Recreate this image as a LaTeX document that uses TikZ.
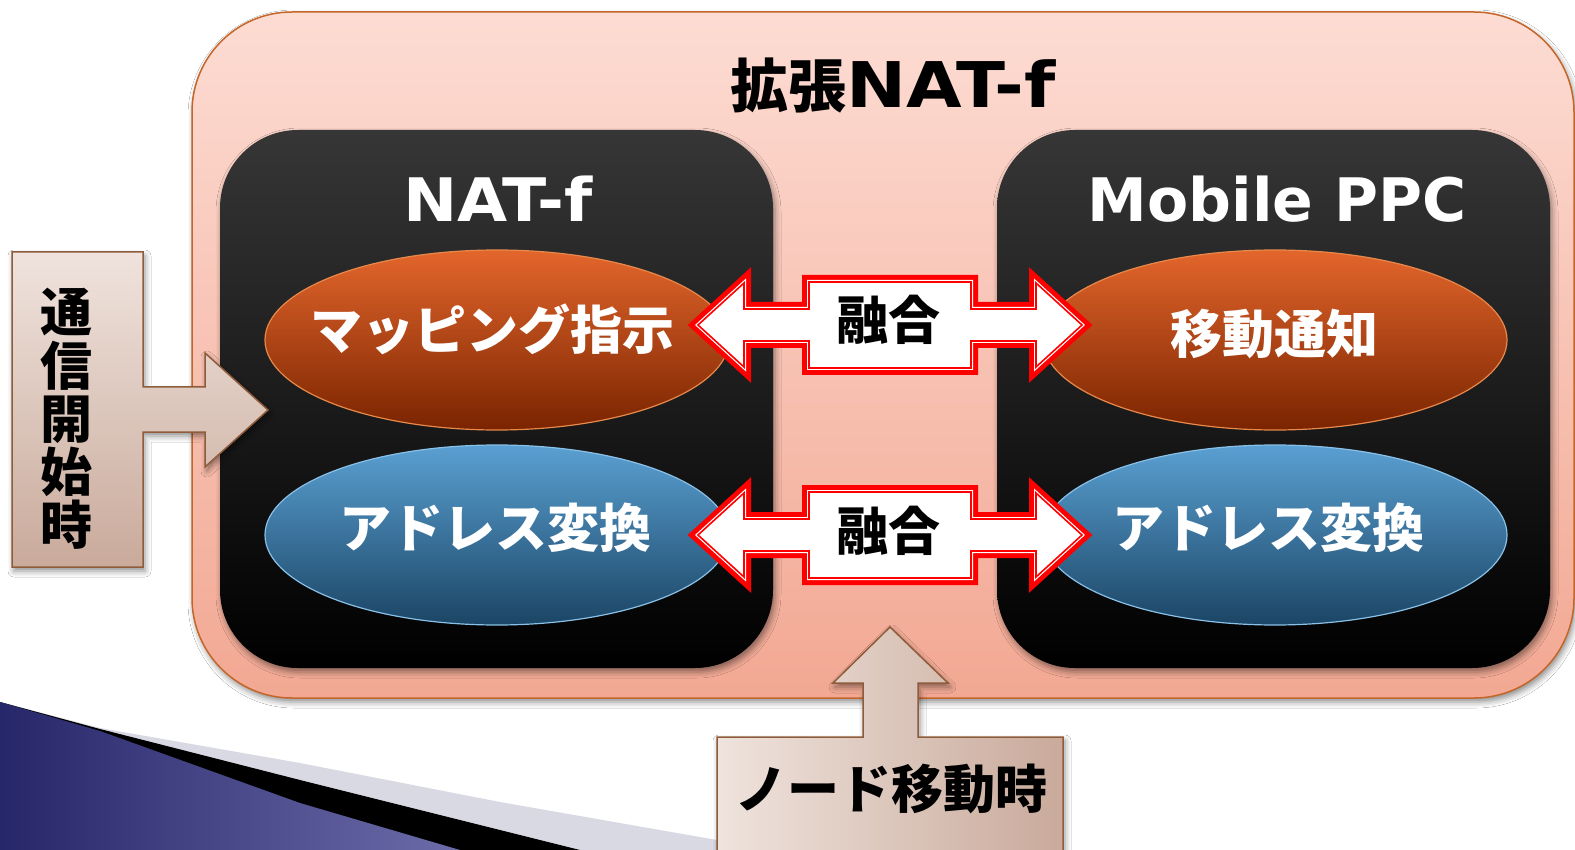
\documentclass[tikz,border=0pt]{standalone}
\usepackage{fontspec}
\newfontfamily\jp{Noto Sans CJK JP}
\newfontfamily\dv{DejaVu Sans}
\newfontfamily\dvw{DejaVu Sans}[FakeStretch=1.14]
\newfontfamily\dvn{DejaVu Sans}[FakeStretch=1.08]
\usetikzlibrary{shapes.geometric,shadows.blur}
\definecolor{pinktop}{HTML}{FDDCD3}
\definecolor{pinkbot}{HTML}{F2A893}
\definecolor{pinkedge}{HTML}{C4662A}
\definecolor{blktop}{HTML}{363636}
\definecolor{blkmid}{HTML}{121212}
\definecolor{ortop}{HTML}{E3662C}
\definecolor{orbot}{HTML}{7A2400}
\definecolor{oredge}{HTML}{E8884A}
\definecolor{bltop}{HTML}{5AA0D2}
\definecolor{blbot}{HTML}{1B4565}
\definecolor{bledge}{HTML}{88C0E8}
\definecolor{cllight}{HTML}{EFE3DD}
\definecolor{cldark}{HTML}{C9AA9B}
\definecolor{cledge}{HTML}{8E5C3A}
\definecolor{stripe}{HTML}{D9D9E3}
\definecolor{navyd}{HTML}{26266A}
\definecolor{navyl}{HTML}{6C6CAA}
\definecolor{fusered}{HTML}{FF0000}
\def\fusepath{(-192,0) -- (-146,-42) -- (-146,-16) -- (-81,-16) -- (-81,-43) -- (81,-43) -- (81,-16) -- (146,-16) -- (146,-42) -- (192,0) -- (146,42) -- (146,16) -- (81,16) -- (81,43) -- (-81,43) -- (-81,16) -- (-146,16) -- (-146,42) -- cycle}
\begin{document}
\begin{tikzpicture}[x=1pt,y=-1pt,
  softshadow/.style={blur shadow={shadow xshift=2pt, shadow yshift=-4pt, shadow blur radius=6pt, shadow opacity=45}},
  outerbox/.style={draw=pinkedge, line width=1.5pt, top color=pinktop, bottom color=pinkbot, rounded corners=100pt, inner sep=0, softshadow},
  blackbox/.style={draw=none, top color=blktop, middle color=blkmid, bottom color=black, rounded corners=78pt, inner sep=0, minimum width=553pt, minimum height=538pt, softshadow},
  orell/.style={ellipse, draw=oredge, line width=1.2pt, top color=ortop, bottom color=orbot, minimum width=464pt, minimum height=180pt, inner sep=0},
  blell/.style={ellipse, draw=bledge, line width=1.2pt, top color=bltop, bottom color=blbot, minimum width=464pt, minimum height=180pt, inner sep=0},
  wtext/.style={text=white, font=\jp\bfseries\fontsize{52}{60}\selectfont, inner sep=0, anchor=base},
  btext/.style={text=black, font=\jp\bfseries\fontsize{52}{60}\selectfont, inner sep=0, anchor=base},
  headtext/.style={text=white, font=\dv\bfseries\fontsize{60}{70}\selectfont, inner sep=0, anchor=base},
  callout/.style={draw=cledge, line width=1.5pt, line join=miter, softshadow},
  fusion/.pic={
    \draw[fusered, line width=14pt, line join=miter, miter limit=10] \fusepath;
    \draw[white, fill=white, line width=4pt, line join=miter, miter limit=10] \fusepath;
    \draw[fusered, line width=1.6pt, line join=miter, miter limit=10] \fusepath;
  }
]
\useasboundingbox (0,0) rectangle (1575,850);
\fill[white] (0,0) rectangle (1575,850);

% decorative swoosh (bottom left)
\fill[stripe] (0,702) -- (100,728) -- (300,763) -- (500,802) -- (717,840) -- (717,850) -- (0,850) -- cycle;
\fill[black] (0,702) -- (100,729) -- (300,780) -- (500,830) -- (580,850) -- (0,850) -- cycle;
\shade[left color=navyd, right color=navyl] (0,702) -- (100,731) -- (300,803) -- (460,850) -- (0,850) -- cycle;

% outer box
\node[outerbox, minimum width=1382pt, minimum height=686pt] (outer) at (883,355) {};
\node[text=black, inner sep=0, anchor=base] (title) at (893,108)
  {{\jp\bfseries\fontsize{58}{66}\selectfont 拡張}{\dvw\bfseries\fontsize{63}{70}\selectfont NAT-f}};

% inner black boxes
\node[blackbox] (natf) at (496.5,399) {};
\node[blackbox] (mppc) at (1273.5,399) {};
\node[headtext, font=\dvn\bfseries\fontsize{60}{70}\selectfont] (natfT) at (498,222) {NAT-f};
\node[headtext] (mppcT) at (1277,222) {Mobile PPC};

% ellipses
\node[orell] (mapL) at (497,340) {};
\node[blell] (adrL) at (497,535) {};
\node[orell] (movR) at (1275,340) {};
\node[blell] (adrR) at (1275,535) {};
\node[wtext] (mapLT) at (492,350) {マッピング指示};
\node[wtext] (adrLT) at (495,547) {アドレス変換};
\node[wtext] (movRT) at (1274,354) {移動通知};
\node[wtext] (adrRT) at (1268,547) {アドレス変換};

% fusion double arrows
\coordinate (fus1) at (890,325);
\coordinate (fus2) at (890,535);
\pic at (fus1) {fusion};
\pic at (fus2) {fusion};
\node[btext] (fus1T) at (888,340) {融合};
\node[btext] (fus2T) at (888,550) {融合};

% left callout
\draw[callout, top color=cllight, bottom color=cldark]
  (12,252) -- (143,252) -- (143,387) -- (205,387) -- (205,353) -- (268,410) -- (205,467) -- (205,432) -- (143,432) -- (143,567) -- (12,567) -- cycle;
\foreach \ch [count=\i] in {通,信,開,始,時}
  \node[btext] (v\i) at (66,279+53*\i) {\ch};

% bottom callout
\draw[callout, left color=cllight, right color=cldark]
  (717,737) -- (863,737) -- (863,683) -- (833,683) -- (890,627) -- (948,683) -- (918,683) -- (918,737) -- (1063,737) -- (1063,870) -- (717,870) -- cycle;
\node[btext] (moveT) at (891,808) {ノード移動時};
\end{tikzpicture}
\end{document}
